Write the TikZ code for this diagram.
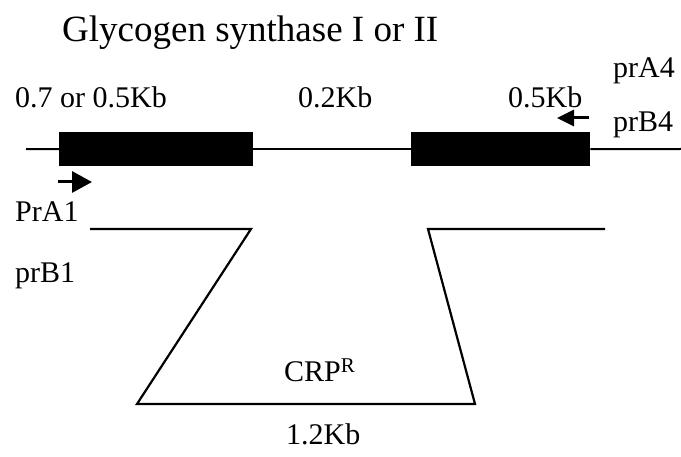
\documentclass[tikz,border=0pt]{standalone}
\usepackage{fontspec}
\setmainfont{Liberation Serif}
\usetikzlibrary{arrows.meta}
\begin{document}
\begin{tikzpicture}[x=1pt,y=-1pt,
  lbl/.style={inner sep=0pt,anchor=base west,font=\fontsize{30}{36}\selectfont},
  ttl/.style={inner sep=0pt,anchor=base west,font=\fontsize{37}{44}\selectfont},
  gene/.style={fill=black,draw=none,minimum height=34pt,inner sep=0pt,anchor=north west},
  dna/.style={line width=2pt},
  primer/.style={line width=3pt}]
\useasboundingbox (0,0) rectangle (681,457);
% title
\node[ttl] (title) at (62,42) {Glycogen synthase I or II};
% labels
\node[lbl] (prA4) at (613,78) {prA4};
\node[lbl] (s1) at (15,108) {0.7 or 0.5Kb};
\node[lbl] (s2) at (298,108) {0.2Kb};
\node[lbl] (s3) at (508,108) {0.5Kb};
\node[lbl] (prB4) at (613,132) {prB4};
\node[lbl] (PrA1) at (15,222) {PrA1};
\node[lbl] (prB1) at (15,283) {prB1};
\node[lbl] (crp) at (284,382) {CRP\textsuperscript{R}};
\node[lbl] (size) at (286,445) {1.2Kb};
% genes
\node[gene,minimum width=194pt] (box1) at (59,132) {};
\node[gene,minimum width=179pt] (box2) at (411,132) {};
% main line
\coordinate (mL) at (26,149);
\coordinate (mR) at (681,149);
\draw[dna] (mL) -- (box1.west);
\draw[dna] (box1.east) -- (box2.west);
\draw[dna] (box2.east) -- (mR);
% primers
\coordinate (pa0) at (58,182);
\coordinate (pa1) at (92,182);
\draw[primer,-{Triangle[length=20pt,width=21pt]}] (pa0) -- (pa1);
\coordinate (pb0) at (589,118);
\coordinate (pb1) at (557,118);
\draw[primer,-{Triangle[length=17pt,width=16pt]}] (pb0) -- (pb1);
% replacement construct
\coordinate (t0) at (90,229);
\coordinate (t1) at (251,229);
\coordinate (t2) at (137,404);
\coordinate (t3) at (475,404);
\coordinate (t4) at (428,229);
\coordinate (t5) at (605,229);
\draw[line width=2.2pt,line join=miter] (t0) -- (t1) -- (t2) -- (t3) -- (t4) -- (t5);
\end{tikzpicture}
\end{document}
